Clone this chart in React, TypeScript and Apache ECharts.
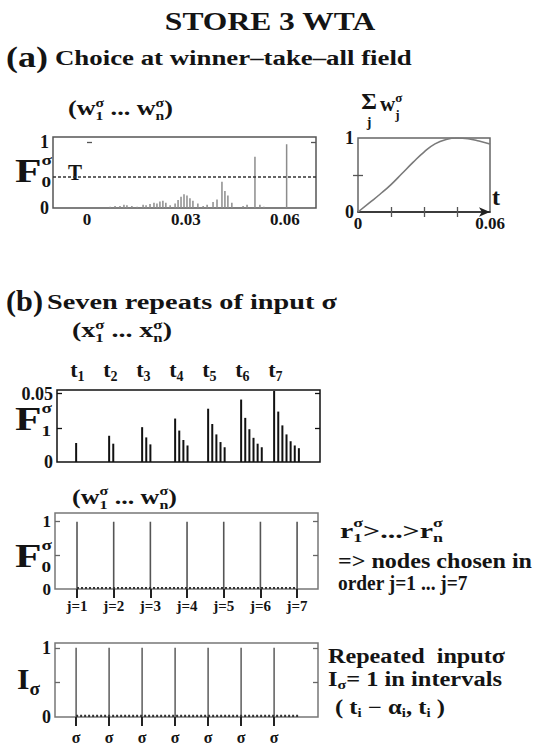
import React, { useEffect, useRef } from 'react';
import * as echarts from 'echarts';

const SERIF = '"Liberation Serif", "Times New Roman", serif';
const INK = '#141414';

// (a) weights w_j over the winner-take-all field at the moment of choice
const fieldPositions = [
  0.007, 0.0085, 0.01, 0.0112, 0.0121, 0.0136, 0.0152, 0.017, 0.0179, 0.0191,
  0.0203, 0.0212, 0.0221, 0.023, 0.0239, 0.0252, 0.0267, 0.0276, 0.0285, 0.0294,
  0.0303, 0.0312, 0.0321, 0.0336, 0.0352, 0.0364, 0.0382, 0.0394, 0.0409, 0.0418,
  0.0427, 0.0439, 0.0473, 0.0485, 0.0509, 0.0524, 0.0536, 0.0605,
];
const fieldWeights = [
  0.02, 0.03, 0.03, 0.05, 0.04, 0.03, 0.02, 0.05, 0.04, 0.06,
  0.08, 0.07, 0.1, 0.11, 0.08, 0.04, 0.07, 0.12, 0.17, 0.21,
  0.19, 0.15, 0.11, 0.07, 0.03, 0.05, 0.09, 0.13, 0.4, 0.26,
  0.19, 0.08, 0.03, 0.05, 0.78, 0.05, 0.02, 0.97,
];
const THRESHOLD = 0.47;
const fieldTickLabels = [0, 0.03, 0.06];

// (a) summed weight sum_j w_j against time t
const sumTimes = [0, 0.005, 0.01, 0.015, 0.02, 0.025, 0.03, 0.035, 0.04, 0.045, 0.05, 0.055, 0.06];
const sumWeights = [0, 0.12, 0.24, 0.37, 0.52, 0.67, 0.81, 0.92, 0.98, 1.0, 0.99, 0.96, 0.92];
const sumTickLabels = [0, 0.06];

// (b) seven repeats of input sigma, presented at t1 ... t7
const repeatTimes = [1, 2, 3, 4, 5, 6, 7];
const NODE_STEP = 0.125;
const repeatInputs = [
  [0.0139],
  [0.0192, 0.0134],
  [0.0255, 0.018, 0.0129],
  [0.0318, 0.023, 0.0161, 0.0121],
  [0.039, 0.0278, 0.0202, 0.0146, 0.0108],
  [0.0457, 0.0323, 0.024, 0.0177, 0.0134, 0.0108],
  [0.052, 0.0369, 0.0268, 0.0202, 0.0152, 0.0121, 0.0101],
];
const chosenNodes = [1, 2, 3, 4, 5, 6, 7];
const chosenWeights = [1, 1, 1, 1, 1, 1, 1];
const inputLevels = [1, 1, 1, 1, 1, 1, 1];
const RESIDUAL = 0.015;
const INPUT_TAIL = 0.75;

// ---------- text helpers ----------
let measureCtx: CanvasRenderingContext2D | null = null;
function textWidth(text: string, size: number) {
  if (!measureCtx) measureCtx = document.createElement('canvas').getContext('2d');
  measureCtx!.font = `bold ${size}px ${SERIF}`;
  return measureCtx!.measureText(text).width;
}

function txt(x: number, y: number, text: string, size: number, align = 'left', sx = 1, color = INK) {
  return {
    type: 'text',
    x,
    y,
    scaleX: sx,
    silent: true,
    style: {
      text,
      font: `bold ${size}px ${SERIF}`,
      fill: color,
      textAlign: align,
      textVerticalAlign: 'middle',
    },
  };
}

function fitText(x: number, y: number, text: string, size: number, width: number, align = 'left') {
  return txt(x, y, text, size, align, width / textWidth(text, size));
}

type Piece =
  | { t: string; s: number }
  | { sub?: string; sup?: string; s: number; dsub?: number; dsup?: number };

// lays out a run of text with stacked sub/superscripts, optionally fitted to a width
function mathText(x: number, y: number, pieces: Piece[], width?: number) {
  const ws = pieces.map((p) =>
    't' in p
      ? textWidth(p.t, p.s)
      : Math.max(p.sub ? textWidth(p.sub, p.s) : 0, p.sup ? textWidth(p.sup, p.s) : 0)
  );
  const total = ws.reduce((a, b) => a + b, 0);
  const sx = width ? width / total : 1;
  const children: any[] = [];
  let cx = x;
  pieces.forEach((p, i) => {
    if ('t' in p) {
      children.push(txt(cx, y, p.t, p.s, 'left', sx));
    } else {
      if (p.sup) children.push(txt(cx, y + (p.dsup ?? -6), p.sup, p.s, 'left', sx));
      if (p.sub) children.push(txt(cx, y + (p.dsub ?? 7), p.sub, p.s, 'left', sx));
    }
    cx += ws[i] * sx;
  });
  return { type: 'group', children };
}

// ---------- axis helpers ----------
const labelStyle = { color: INK, fontFamily: SERIF, fontWeight: 'bold' as const, fontSize: 18 };

function hiddenX(gridIndex: number, min: number, max: number, extra: any = {}) {
  return {
    type: 'value',
    gridIndex,
    min,
    max,
    axisLine: { show: false },
    splitLine: { show: false },
    axisTick: { show: false },
    axisLabel: { show: false },
    ...extra,
  };
}

function yPair(gridIndex: number, max: number, labels: number[], ticks: number[], color: string, fontSize = 18) {
  const tick = { show: true, inside: true, length: 5, customValues: ticks, lineStyle: { color, width: 1.3 } };
  return [
    {
      type: 'value',
      gridIndex,
      min: 0,
      max,
      position: 'left',
      axisLine: { show: false },
      splitLine: { show: false },
      axisTick: tick,
      axisLabel: {
        show: true,
        customValues: labels,
        margin: 4,
        ...labelStyle,
        fontSize,
        formatter: (v: number) => (v === 0 ? '0' : String(v)),
      },
    },
    {
      type: 'value',
      gridIndex,
      min: 0,
      max,
      position: 'right',
      axisLine: { show: false },
      splitLine: { show: false },
      axisTick: tick,
      axisLabel: { show: false },
    },
  ];
}

function frame(left: number, top: number, width: number, height: number, color: string) {
  return {
    left,
    top,
    width,
    height,
    show: true,
    borderColor: color,
    borderWidth: 1.5,
    backgroundColor: 'transparent',
    containLabel: false,
    outerBoundsMode: 'none',
  };
}

function buildOption() {
  const inputBars = repeatInputs.flatMap((grp, i) =>
    grp.map((v, k) => [repeatTimes[i] + k * NODE_STEP, v])
  );
  return {
    animation: false,
    backgroundColor: '#ffffff',
    grid: [
      frame(53, 137, 263, 71, '#555'),
      frame(358, 138, 132, 74, '#666'),
      frame(57, 390, 263, 72, '#111'),
      frame(55, 513, 263, 76, '#777'),
      frame(55, 643, 263, 74, '#777'),
    ],
    xAxis: [
      hiddenX(0, -0.0103, 0.0694, {
        axisLabel: {
          show: true,
          customValues: fieldTickLabels,
          margin: 3,
          ...labelStyle,
          fontSize: 17,
          formatter: (v: number) => (v === 0 ? '0' : v.toFixed(2)),
        },
      }),
      hiddenX(1, 0, 0.06, {
        axisLine: {
          show: true,
          symbol: ['none', 'arrow'],
          symbolSize: [7, 11],
          lineStyle: { color: '#222', width: 1.5 },
        },
        axisTick: {
          show: true,
          inside: true,
          length: 5,
          customValues: [0.015, 0.03, 0.045],
          lineStyle: { color: '#555', width: 1.3 },
        },
        axisLabel: {
          show: true,
          customValues: sumTickLabels,
          margin: 3,
          ...labelStyle,
          fontSize: 17,
          formatter: (v: number) => (v === 0 ? '0' : v.toFixed(2)),
        },
      }),
      hiddenX(1, 0, 0.06, {
        position: 'top',
        axisTick: {
          show: true,
          inside: true,
          length: 5,
          customValues: [0.015, 0.03, 0.045],
          lineStyle: { color: '#555', width: 1.3 },
        },
      }),
      hiddenX(2, 0.42, 8.39),
      hiddenX(3, 0.4, 7.57, {
        axisTick: {
          show: true,
          inside: false,
          length: 9,
          customValues: chosenNodes,
          lineStyle: { color: '#222', width: 2 },
        },
        axisLabel: {
          show: true,
          customValues: chosenNodes,
          margin: 9,
          ...labelStyle,
          fontSize: 15,
          formatter: (v: number) => 'j=' + v,
        },
      }),
      hiddenX(4, 0.36, 8.33, {
        axisTick: {
          show: true,
          inside: false,
          length: 9,
          customValues: repeatTimes,
          lineStyle: { color: '#222', width: 2 },
        },
        axisLabel: {
          show: true,
          customValues: repeatTimes,
          margin: 12,
          ...labelStyle,
          fontSize: 16,
          formatter: () => 'σ',
        },
      }),
    ],
    yAxis: [
      ...yPair(0, 1.08, [0, 1], [1], '#555'),
      ...yPair(1, 1.0, [0, 1], [0.5], '#555'),
      ...yPair(2, 0.0527, [0, 0.05], [0.025, 0.05], '#111'),
      ...yPair(3, 1.13, [0, 1], [0.5, 1], '#666', 17),
      ...yPair(4, 1.07, [0, 1], [0.5, 1], '#666'),
    ],
    series: [
      {
        type: 'bar',
        xAxisIndex: 0,
        yAxisIndex: 0,
        barWidth: 1.5,
        itemStyle: { color: '#8c8c8c' },
        data: fieldPositions.map((x, i) => [x, fieldWeights[i]]),
        markLine: {
          silent: true,
          symbol: 'none',
          label: { show: false },
          lineStyle: { type: [3, 2], color: '#333', width: 1.5 },
          data: [{ yAxis: THRESHOLD }],
        },
      },
      {
        type: 'line',
        xAxisIndex: 1,
        yAxisIndex: 2,
        smooth: true,
        showSymbol: false,
        lineStyle: { color: '#7a7a7a', width: 1.6 },
        data: sumTimes.map((t, i) => [t, sumWeights[i]]),
      },
      {
        type: 'bar',
        xAxisIndex: 3,
        yAxisIndex: 4,
        barWidth: 2,
        itemStyle: { color: '#111' },
        data: inputBars,
      },
      {
        type: 'bar',
        xAxisIndex: 4,
        yAxisIndex: 6,
        barWidth: 1.6,
        itemStyle: { color: '#555' },
        data: chosenNodes.map((j, i) => [j, chosenWeights[i]]),
      },
      {
        type: 'line',
        xAxisIndex: 4,
        yAxisIndex: 6,
        showSymbol: false,
        lineStyle: { type: [2, 2], color: '#333', width: 2.2 },
        data: [
          [chosenNodes[0], RESIDUAL],
          [chosenNodes[chosenNodes.length - 1], RESIDUAL],
        ],
      },
      {
        type: 'bar',
        xAxisIndex: 5,
        yAxisIndex: 8,
        barWidth: 1.6,
        itemStyle: { color: '#666' },
        data: repeatTimes.map((t, i) => [t, inputLevels[i]]),
      },
      {
        type: 'line',
        xAxisIndex: 5,
        yAxisIndex: 8,
        showSymbol: false,
        lineStyle: { type: [2, 2], color: '#333', width: 2.2 },
        data: [
          [repeatTimes[0], RESIDUAL],
          [repeatTimes[repeatTimes.length - 1] + INPUT_TAIL, RESIDUAL],
        ],
      },
    ],
  };
}

function buildTexts(chart: echarts.ECharts) {
  const sig = (sub: string, s: number, dsub: number, dsup: number): Piece => ({ sub, sup: 'σ', s, dsub, dsup });
  const els: any[] = [
    fitText(270, 22, 'STORE 3 WTA', 25, 211, 'center'),
    fitText(6, 57, '(a)', 30, 42),
    fitText(55, 58, 'Choice at winner–take–all field', 21, 357),
    mathText(68, 108, [{ t: '(w', s: 20 }, sig('1', 12, 8, -5), { t: ' ... w', s: 20 }, sig('n', 12, 8, -5), { t: ')', s: 20 }], 105),
    mathText(15, 170, [{ t: 'F', s: 34 }, sig('0', 15, 12, -10)], 37),
    fitText(68, 172, 'T', 24, 14),
    txt(369, 101, 'Σ', 24, 'center'),
    txt(369, 122, 'j', 14, 'center'),
    mathText(380, 104, [{ t: 'w', s: 21 }, sig('j', 13, 10, -7)]),
    txt(492, 197, 't', 24),

    fitText(6, 301, '(b)', 30, 37),
    fitText(47, 301, 'Seven repeats of input σ', 22, 290),
    mathText(72, 330, [{ t: '(x', s: 20 }, sig('1', 12, 8, -5), { t: ' ... x', s: 20 }, sig('n', 12, 8, -5), { t: ')', s: 20 }], 100),
    mathText(15, 418, [{ t: 'F', s: 34 }, sig('1', 15, 13, -10)], 37),
    mathText(72, 497, [{ t: '(w', s: 21 }, sig('1', 13, 8, -6), { t: ' ... w', s: 21 }, sig('n', 13, 8, -6), { t: ')', s: 21 }], 105),
    mathText(15, 555, [{ t: 'F', s: 34 }, sig('0', 15, 12, -10)], 37),
    mathText(17, 679, [{ t: 'I', s: 30 }, { sub: 'σ', s: 18, dsub: 10 }], 23),

    mathText(340, 531, [{ t: 'r', s: 20 }, sig('1', 12, 7, -8), { t: '>...>r', s: 20 }, sig('n', 12, 7, -8)], 103),
    fitText(338, 561, '=> nodes chosen in', 20, 194),
    fitText(338, 583, 'order j=1 ... j=7', 20, 130),
    fitText(328, 656, 'Repeated  inputσ', 20, 177),
    mathText(328, 679, [{ t: 'I', s: 20 }, { sub: 'σ', s: 13, dsub: 6 }, { t: '= 1 in intervals', s: 20 }], 174),
    mathText(335, 707, [
      { t: '( t', s: 20 }, { sub: 'i', s: 12, dsub: 6 },
      { t: ' − α', s: 20 }, { sub: 'i', s: 12, dsub: 6 },
      { t: ', t', s: 20 }, { sub: 'i', s: 12, dsub: 6 },
      { t: ' )', s: 20 },
    ], 110),
  ];

  // t_i labels above the input panel, placed through the panel's own x scale
  repeatTimes.forEach((t, i) => {
    const px = chart.convertToPixel({ xAxisIndex: 3 }, t) as number;
    els.push(mathText(px - 6, 369, [{ t: 't', s: 22 }, { sub: String(i + 1), s: 14, dsub: 7 }]));
  });
  return els;
}

export default function App() {
  const ref = useRef<HTMLDivElement>(null);
  useEffect(() => {
    const chart = echarts.init(ref.current!, null, { renderer: 'svg' });
    chart.setOption(buildOption() as any);
    chart.setOption({ graphic: { elements: buildTexts(chart) } } as any);
    return () => chart.dispose();
  }, []);
  return (
    <div
      ref={ref}
      style={{ position: 'fixed', left: 0, top: 0, width: 536, height: 744, background: '#fff' }}
    />
  );
}
